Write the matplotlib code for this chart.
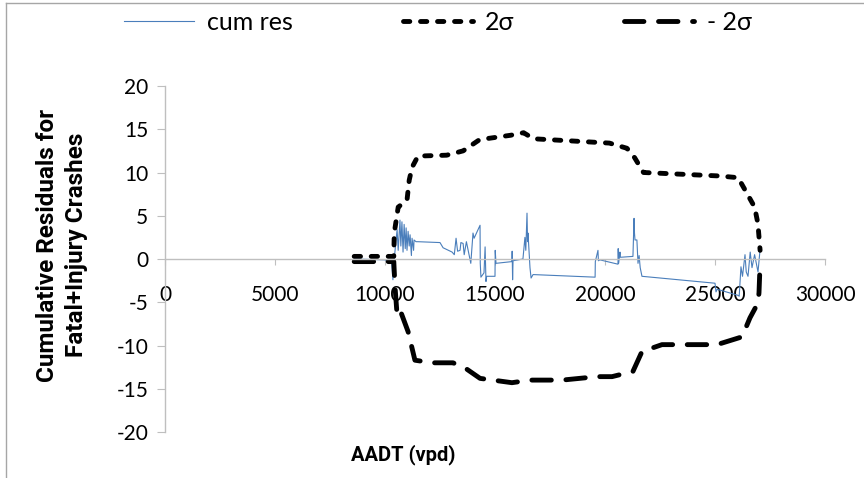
"""
CURE plot: cumulative residuals vs AADT for fatal+injury crashes.
Saves out.png (864x478).
"""

import matplotlib
matplotlib.use("Agg")
import matplotlib.pyplot as plt
from matplotlib.lines import Line2D

plt.rcParams["font.family"] = ["Lato", "DejaVu Sans"]
plt.rcParams["axes.unicode_minus"] = False

# cumulative residuals
aadt_cr = [8600, 10000, 10300, 10360, 10400, 10550, 10600, 10680, 10720, 10770,
           10820, 10870, 10920, 10960, 11000, 11050, 11100, 11140, 11200, 11230,
           11300, 11320, 11410, 11500, 12500, 12640, 13050, 13150, 13230, 13300,
           13410, 13450, 13550, 13600, 13700, 13860, 13900, 14000, 14050, 14320,
           14330, 14360, 14500, 14550, 14590, 14620, 15000, 15010, 15045, 15770,
           15780, 15800, 15820, 16270, 16360, 16400, 16455, 16480, 16500, 16590,
           16640, 16730, 19550, 19560, 19680, 19700, 19770, 20590, 20600, 20620,
           20680, 20700, 21270, 21320, 21340, 21364, 21450, 21500, 21550, 21600,
           21680, 25000, 25045, 25100, 26045, 26100, 26180, 26250, 26364, 26420,
           26500, 26600, 26682, 26800, 26955, 27045]
cum_res = [0.0, -0.1, -0.4, -2.4, -0.5, 3.4, 1.0, 4.5, 1.5, 4.3,
           0.8, 4.0, 1.2, 3.6, 1.0, 3.2, 1.5, 2.8, 0.4, 2.4,
           1.0, 2.2, 2.0, 2.0, 1.9, 1.3, 0.8, 0.5, 2.4, 0.9,
           1.0, 1.9, 1.8, 0.5, 2.0, 0.0, -0.5, 3.0, 2.4, 3.9,
           -0.5, -2.1, -1.6, 1.4, -2.6, -2.0, -2.0, 1.0, -0.5, -0.3,
           0.9, -2.4, -0.2, 0.0, 2.5, 1.0, 5.3, 2.0, 3.0, -1.0,
           -2.2, -1.8, -2.1, -0.3, 1.0, -0.2, -0.1, -0.6, 1.2, -0.5,
           0.8, 0.2, 0.3, 4.7, 3.0, 2.2, 2.2, -0.5, 0.4, -1.0,
           -2.0, -2.8, -3.8, -3.5, -4.2, -4.3, -0.9, -2.0, 0.5, -1.5,
           -2.0, 0.8, -1.0, 0.5, -1.5, 1.0]

# +2 sigma bound
aadt_up = [8600, 10400, 10420, 10600, 11000, 11100, 11230, 11500, 12800, 13550,
           14300, 15700, 16300, 16750, 20200, 21000, 21350, 21750, 25200, 26050,
           26450, 26800, 26950, 27050]
upper = [0.3, 0.3, 3.0, 6.0, 6.8, 9.1, 10.6, 11.9, 12.0, 12.5,
         13.8, 14.3, 14.6, 13.9, 13.4, 12.8, 11.7, 10.0, 9.6, 9.4,
         7.6, 6.0, 4.1, 1.0]

# -2 sigma bound
aadt_lo = [8600, 10400, 10450, 10550, 10700, 11050, 11360, 12140, 13090, 13640,
           14320, 15770, 16600, 18050, 19640, 20320, 21270, 21680, 22590, 25090,
           26230, 26590, 26950, 27000, 27050]
lower = [-0.3, -0.3, -3.0, -6.5, -6.0, -8.4, -11.7, -12.0, -12.0, -12.6,
         -13.8, -14.3, -14.0, -14.0, -13.6, -13.6, -13.0, -10.7, -9.9, -9.9,
         -9.0, -6.8, -5.1, -3.9, -0.5]

x_ticks = [0, 5000, 10000, 15000, 20000, 25000, 30000]
y_ticks = [-20, -15, -10, -5, 0, 5, 10, 15, 20]

AXIS_GRAY = "#BFBFBF"
BOLD_FONT = ["Roboto", "DejaVu Sans"]

fig = plt.figure(figsize=(8.64, 4.78), dpi=100)
ax = fig.add_axes([165 / 864, 1 - 432 / 478, 660 / 864, 346 / 478])

l_cr, = ax.plot(aadt_cr, cum_res, color="#4A7EBB", lw=0.8, label="cum res")
l_up, = ax.plot(aadt_up, upper, color="black", lw=3.5, label="2σ",
                dashes=(1.3, 2.2), dash_capstyle="round", solid_capstyle="round")
l_lo, = ax.plot(aadt_lo, lower, color="black", lw=3.5, label="- 2σ",
                dashes=(4.0, 3.0), dash_capstyle="round", solid_capstyle="round")

ax.set_xlim(0, 30000)
ax.set_ylim(-20, 20)
ax.set_xticks(x_ticks)
ax.set_yticks(y_ticks)

ax.spines["top"].set_visible(False)
ax.spines["right"].set_visible(False)
ax.spines["bottom"].set_position(("data", 0))
for s in ("left", "bottom"):
    ax.spines[s].set_color(AXIS_GRAY)
    ax.spines[s].set_linewidth(1.0)
ax.tick_params(axis="both", colors=AXIS_GRAY, labelcolor="black", labelsize=15)
ax.tick_params(axis="x", direction="out", length=4, pad=15)
ax.tick_params(axis="y", direction="out", length=6, pad=6)

fig.text(62 / 864, 1 - 245 / 478, "Cumulative Residuals for\nFatal+Injury Crashes",
         rotation=90, ha="center", va="center", fontsize=17.5, fontweight="bold",
         family=BOLD_FONT, multialignment="center", linespacing=1.3)
fig.text(403 / 864, 1 - 455 / 478, "AADT (vpd)", ha="center", va="center",
         fontsize=14.5, fontweight="bold", family=BOLD_FONT)

fig.legend(handles=[l_cr, l_up, l_lo], loc="center", ncol=3, frameon=False,
           bbox_to_anchor=(438 / 864, 1 - 22 / 478), fontsize=18,
           handlelength=2.8, handletextpad=0.5, columnspacing=4.4)

# chart area border (top and left edges visible)
fig.add_artist(Line2D([6 / 864, 6 / 864], [0, 1 - 3 / 478], transform=fig.transFigure,
                      color="#A6A6A6", lw=1))
fig.add_artist(Line2D([6 / 864, 1], [1 - 3 / 478, 1 - 3 / 478], transform=fig.transFigure,
                      color="#A6A6A6", lw=1))

fig.savefig("out.png", dpi=100)
